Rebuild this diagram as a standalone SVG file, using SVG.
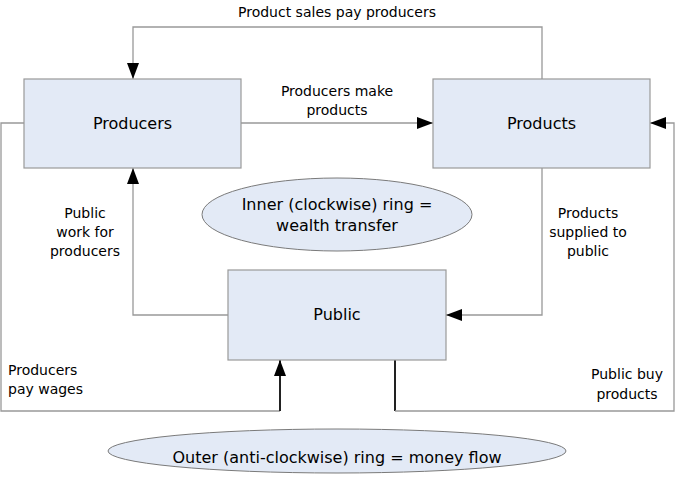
<svg xmlns="http://www.w3.org/2000/svg" width="675" height="482" viewBox="0 0 675 482">
<style>
.box{fill:#e3eaf6;stroke:#999;stroke-width:1.2}
.ell{fill:#e3eaf6;stroke:#7a7a7a;stroke-width:1}
.c{fill:none;stroke:#999;stroke-width:1.3}
.d{fill:none;stroke:#222;stroke-width:2}
text{font-family:"DejaVu Sans",Verdana,sans-serif;fill:#000}
.t16{font-size:16px;text-anchor:middle}
.t14{font-size:14px}
.m{text-anchor:middle}
</style>
<defs>
<marker id="ah" viewBox="0 0 16 12" refX="16" refY="6" markerWidth="16" markerHeight="12" markerUnits="userSpaceOnUse" orient="auto">
<path d="M0,0 L16,6 L0,12 Z" fill="#000"/>
</marker>
</defs>
<rect width="675" height="482" fill="#fff"/>
<g id="connectors">
<path class="c" d="M542,79 V27 H133 V79" marker-end="url(#ah)"/>
<path class="c" d="M241,123 H433" marker-end="url(#ah)"/>
<path class="c" d="M542,168 V315 H446" marker-end="url(#ah)"/>
<path class="c" d="M228,315 H133 V168" marker-end="url(#ah)"/>
<path class="c" d="M24,123 H1 V411 H280"/>
<path class="d" d="M280,411 V360" marker-end="url(#ah)"/>
<path class="d" d="M395,360 V411"/>
<path class="c" d="M395,411 H674 V123 H650" marker-end="url(#ah)"/>
</g>
<g id="producers">
<rect class="box" x="24" y="79" width="217" height="89"/>
<text class="t16" x="132.5" y="129">Producers</text>
</g>
<g id="products">
<rect class="box" x="433" y="79" width="217" height="89"/>
<text class="t16" x="541.5" y="129">Products</text>
</g>
<g id="public">
<rect class="box" x="228" y="270" width="218" height="90"/>
<text class="t16" x="337" y="320">Public</text>
</g>
<g id="inner-ring">
<ellipse class="ell" cx="337" cy="214.5" rx="135" ry="36.5"/>
<text class="t16" x="337" y="210">Inner (clockwise) ring =</text>
<text class="t16" x="337" y="231">wealth transfer</text>
</g>
<g id="outer-ring">
<ellipse class="ell" cx="337" cy="451" rx="229" ry="22"/>
<text class="t16" x="337" y="463">Outer (anti-clockwise) ring = money flow</text>
</g>
<g id="labels">
<text class="t14 m" x="337" y="17">Product sales pay producers</text>
<text class="t14 m" x="337" y="96">Producers make</text>
<text class="t14 m" x="337" y="115">products</text>
<text class="t14 m" x="85" y="218">Public</text>
<text class="t14 m" x="85" y="237">work for</text>
<text class="t14 m" x="85" y="256">producers</text>
<text class="t14 m" x="588" y="218">Products</text>
<text class="t14 m" x="588" y="237">supplied to</text>
<text class="t14 m" x="588" y="256">public</text>
<text class="t14" x="8" y="375">Producers</text>
<text class="t14" x="8" y="394">pay wages</text>
<text class="t14 m" x="627" y="379">Public buy</text>
<text class="t14 m" x="627" y="399">products</text>
</g>
</svg>
